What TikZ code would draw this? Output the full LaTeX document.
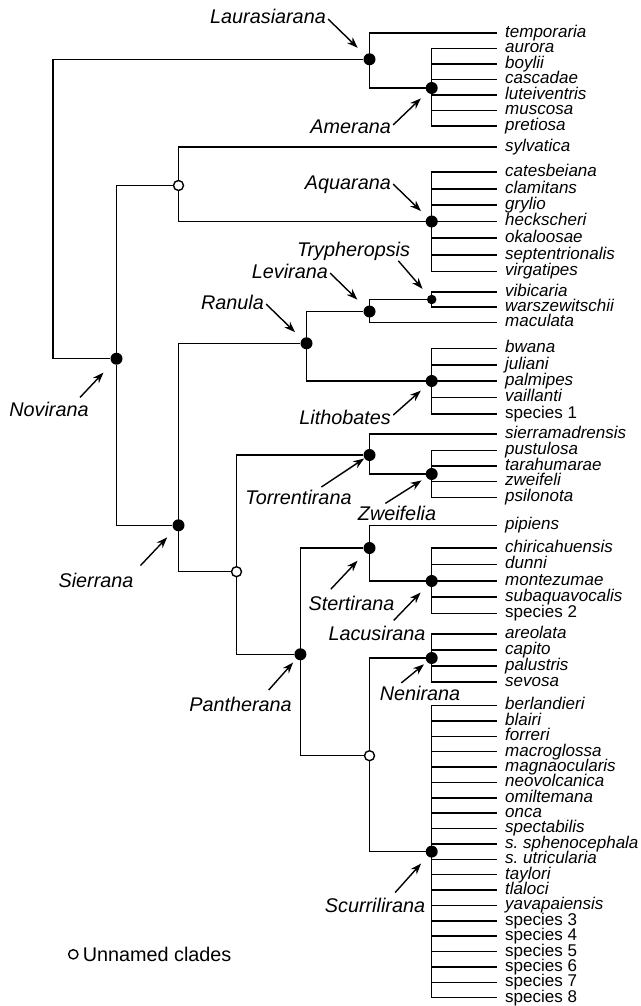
\documentclass[tikz,border=0pt]{standalone}
\usepackage{fontspec}
\setmainfont{Liberation Sans}
\usetikzlibrary{arrows.meta,positioning}

\begin{document}
\begin{tikzpicture}[
x=1pt, y=-1pt,
branch/.style={line width=1.5pt},
taxon/.style={anchor=west, inner xsep=8pt, inner ysep=0pt, text height=12.3pt,
  text depth=3.5pt, font=\fontsize{17}{17}\selectfont\itshape},
spec/.style={taxon, font=\fontsize{17}{17}\selectfont\upshape},
clade/.style={circle, fill=black, inner sep=0pt, minimum size=12pt},
unnamed/.style={circle, draw=black, fill=white, line width=1.4pt,
  inner sep=0pt, minimum size=10pt},
cladename/.style={inner sep=0pt, text height=14pt, text depth=0pt,
  font=\fontsize{19.8}{20}\selectfont\itshape},
pointer/.style={-{Stealth[length=11pt,width=8pt]}, line width=1.4pt,
  shorten <=3pt, shorten >=15pt}
]
\useasboundingbox (0,0) rectangle (640,1006);

% clade points
\coordinate (root) at (53,358.7);
\node[clade] (laur) at (369.5,59.3) {};
\node[clade] (amer) at (431.7,88) {};
\node[unnamed] (u1) at (178.5,185.5) {};
\node[clade] (aqua) at (431.7,221.5) {};
\node[clade] (novi) at (116.5,358.7) {};
\node[clade] (ranula) at (306.5,343.3) {};
\node[clade] (levi) at (369.5,311.5) {};
\node[clade, minimum size=9.5pt] (tryp) at (431.7,299.5) {};
\node[clade] (litho) at (431.7,381) {};
\node[clade] (sierr) at (178.5,525.3) {};
\node[unnamed] (u2) at (236.5,571.7) {};
\node[clade] (torr) at (369.5,455) {};
\node[clade] (zwei) at (431.7,474) {};
\node[clade] (panth) at (300.4,654.3) {};
\node[clade] (stert) at (369.5,548) {};
\node[clade] (lacu) at (431.7,581) {};
\node[unnamed] (u3) at (369.5,755.7) {};
\node[clade] (neni) at (431.7,658) {};
\node[clade] (scurr) at (431.7,851.6) {};

% species
\foreach \id/\y in {temporaria/33, aurora/48.5, boylii/64, cascadae/79.5,
  luteiventris/95, muscosa/110.5, pretiosa/126, sylvatica/147,
  catesbeiana/172, clamitans/189, grylio/205, heckscheri/221.5, okaloosae/238,
  septentrionalis/255, virgatipes/271.5, vibicaria/292, warszewitschii/307,
  maculata/322.5, bwana/348.5, juliani/365, palmipes/381, vaillanti/397.5,
  sierramadrensis/434, pustulosa/450.5, tarahumarae/466, zweifeli/481.5,
  psilonota/497.5, pipiens/525.5, chiricahuensis/548, dunni/564.5,
  montezumae/581, subaquavocalis/597, areolata/634, capito/650,
  palustris/666, sevosa/682, berlandieri/705.5, blairi/720.9, forreri/736.3,
  macroglossa/751.6, magnaocularis/767, neovolcanica/782.4,
  omiltemana/797.8, onca/813.2, spectabilis/828.5, taylori/874.7,
  tlaloci/890.1, yavapaiensis/905.4}
  \node[taxon] (\id) at (497,\y) {\id};
\foreach \id/\y in {sphenocephala/843.9, utricularia/859.3}
  \node[taxon] (\id) at (497,\y) {s.\ \id};
\foreach \n/\y in {1/414, 2/613.5, 3/920.8, 4/936.2, 5/951.6, 6/967,
  7/982.3, 8/997.7}
  \node[spec] (sp\n) at (497,\y) {species \n};

% tree
\draw[branch] (laur) -| (root) -- (novi);
\draw[branch] (u1) -| (novi) |- (sierr);
\draw[branch] (laur.center) |- (temporaria.west);
\draw[branch] (laur.center) |- (amer);
\foreach \id in {aurora,boylii,cascadae,luteiventris,muscosa,pretiosa}
  \draw[branch] (amer.center) |- (\id.west);
\draw[branch] (u1) |- (sylvatica.west);
\draw[branch] (u1) |- (aqua);
\foreach \id in {catesbeiana,clamitans,grylio,heckscheri,okaloosae,
  septentrionalis,virgatipes}
  \draw[branch] (aqua.center) |- (\id.west);
\draw[branch] (sierr.center) |- (ranula);
\draw[branch] (sierr.center) |- (u2);
\draw[branch] (ranula.center) |- (levi);
\draw[branch] (ranula.center) |- (litho);
\draw[branch] (levi.center) |- (tryp);
\draw[branch] (levi.center) |- (maculata.west);
\draw[branch] (tryp.center) |- (vibicaria.west);
\draw[branch] (tryp.center) |- (warszewitschii.west);
\foreach \id in {bwana,juliani,palmipes,vaillanti,sp1}
  \draw[branch] (litho.center) |- (\id.west);
\draw[branch] (u2) |- (torr);
\draw[branch] (u2) |- (panth);
\draw[branch] (torr.center) |- (sierramadrensis.west);
\draw[branch] (torr.center) |- (zwei);
\foreach \id in {pustulosa,tarahumarae,zweifeli,psilonota}
  \draw[branch] (zwei.center) |- (\id.west);
\draw[branch] (panth.center) |- (stert);
\draw[branch] (panth.center) |- (u3);
\draw[branch] (stert.center) |- (pipiens.west);
\draw[branch] (stert.center) |- (lacu);
\foreach \id in {chiricahuensis,dunni,montezumae,subaquavocalis,sp2}
  \draw[branch] (lacu.center) |- (\id.west);
\draw[branch] (u3) |- (neni);
\draw[branch] (u3) |- (scurr);
\foreach \id in {areolata,capito,palustris,sevosa}
  \draw[branch] (neni.center) |- (\id.west);
\foreach \id in {berlandieri,blairi,forreri,macroglossa,magnaocularis,
  neovolcanica,omiltemana,onca,spectabilis,sphenocephala,utricularia,
  taylori,tlaloci,yavapaiensis,sp3,sp4,sp5,sp6,sp7,sp8}
  \draw[branch] (scurr.center) |- (\id.west);

% clade names
\node[cladename, anchor=east] (laurL) at (326,17) {Laurasiarana};
\node[cladename, anchor=east] (amerL) at (391,127) {Amerana};
\node[cladename, anchor=east] (aquaL) at (391,182) {Aquarana};
\node[cladename] (trypL) at (353.5,249) {Trypheropsis};
\node[cladename, anchor=east] (leviL) at (328,271) {Levirana};
\node[cladename, anchor=east] (ranulaL) at (264,302) {Ranula};
\node[cladename] (noviL) at (49,409) {Novirana};
\node[cladename, anchor=east] (lithoL) at (391,417) {Lithobates};
\node[cladename] (torrL) at (298.5,497) {Torrentirana};
\node[cladename] (zweiL) at (397,513) {Zweifelia};
\node[cladename] (sierrL) at (96,580) {Sierrana};
\node[cladename] (stertL) at (351.5,603) {Stertirana};
\node[cladename] (lacuL) at (377,633) {Lacusirana};
\node[cladename] (panthL) at (240.5,704) {Pantherana};
\node[cladename] (neniL) at (420,693) {Nenirana};
\node[cladename] (scurrL) at (375,905) {Scurrilirana};

\draw[pointer, shorten >=16.5pt] (laurL.east) -- (laur.center);
\draw[pointer] (amerL.east) -- (amer.center);
\draw[pointer] (aquaL.east) -- (aqua.center);
\draw[pointer, shorten <=6pt, shorten >=14pt] (trypL.-10) -- (tryp.center);
\draw[pointer, shorten >=17pt] (leviL.east) -- (levi.center);
\draw[pointer, shorten >=16pt] (ranulaL.east) -- (ranula.center);
\draw[pointer, shorten <=6pt, shorten >=19pt] (noviL.15) -- (novi.center);
\draw[pointer, shorten >=14.5pt] (lithoL.east) -- (litho.center);
\draw[pointer, shorten <=5pt, shorten >=6.5pt] (torrL.21) -- (torr.center);
\draw[pointer, shorten <=4.5pt, shorten >=12pt] (zweiL.155) -- (zwei.center);
\draw[pointer, shorten <=10pt, shorten >=16.5pt] (sierrL.north east) -- (sierr.center);
\draw[pointer, shorten <=9pt, shorten >=17.5pt] (stertL.165) -- (stert.center);
\draw[pointer, shorten <=7.5pt, shorten >=16pt] (lacuL.32) -- (lacu.center);
\draw[pointer, shorten <=9pt, shorten >=11pt] (panthL.18) -- (panth.center);
\draw[pointer, shorten <=4.5pt, shorten >=10pt] (neniL.162) -- (neni.center);
\draw[pointer, shorten <=7pt, shorten >=16pt] (scurrL.25) -- (scurr.center);

% key
\node[unnamed, minimum size=9.3pt] (key) at (73.3,954.3) {};
\node[cladename, font=\fontsize{19.8}{20}\selectfont, right=4pt of key] (keyL) {Unnamed clades};
\end{tikzpicture}
\end{document}
